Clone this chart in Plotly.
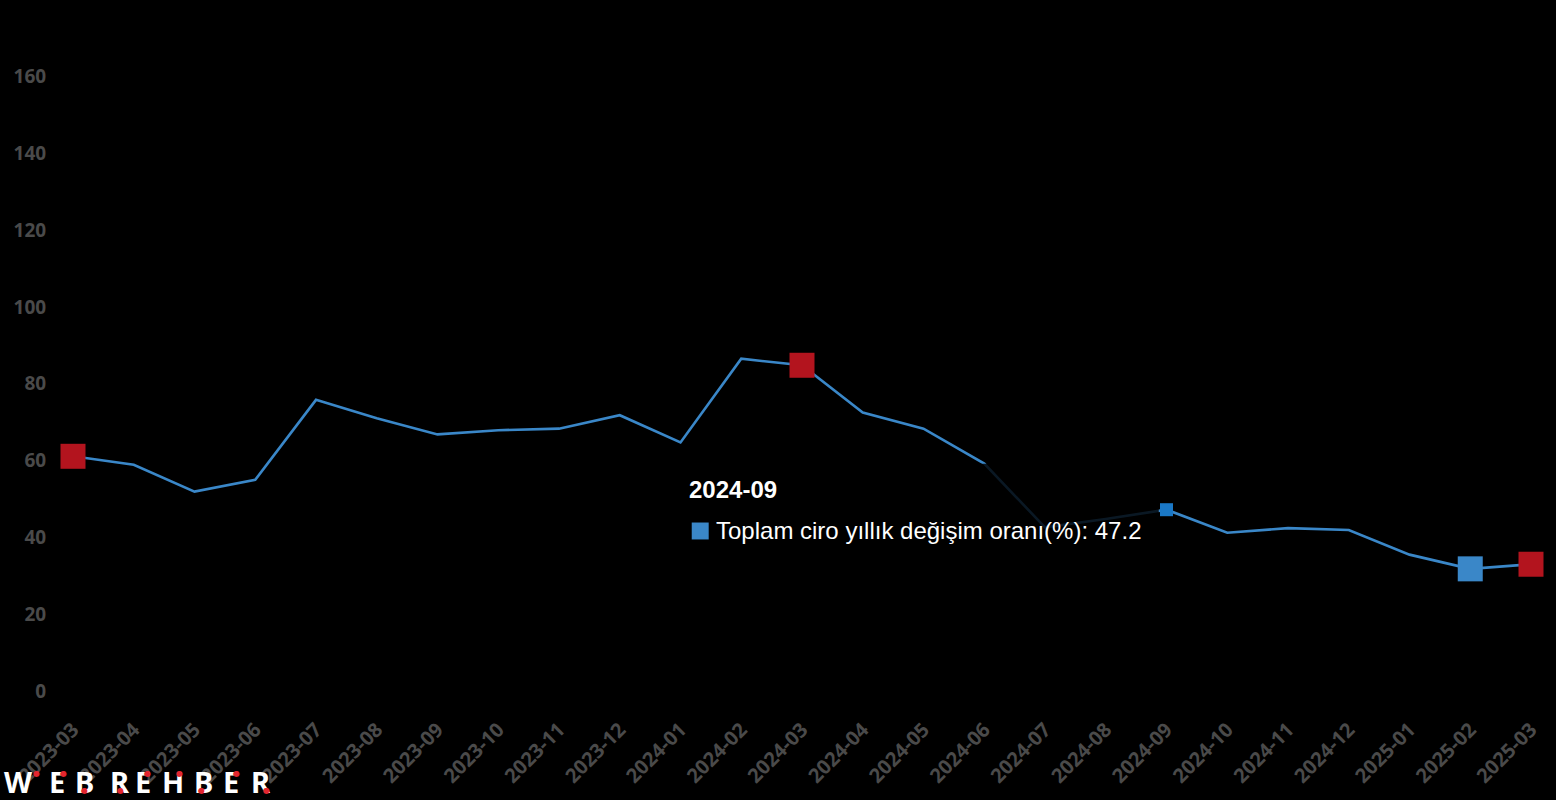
import plotly.graph_objects as go

# ---------------- data ----------------
months = ["2023-03", "2023-04", "2023-05", "2023-06", "2023-07", "2023-08", "2023-09",
          "2023-10", "2023-11", "2023-12", "2024-01", "2024-02", "2024-03", "2024-04",
          "2024-05", "2024-06", "2024-07", "2024-08", "2024-09", "2024-10", "2024-11",
          "2024-12", "2025-01", "2025-02", "2025-03"]
values = [61.1, 58.9, 51.9, 55.0, 75.8, 71.0, 66.8, 67.9, 68.3, 71.8, 64.7, 86.5, 84.8,
          72.5, 68.3, 59.2, 42.6, 44.8, 47.2, 41.2, 42.4, 41.9, 35.5, 31.8, 33.0]
series_name = "Toplam ciro yıllık değişim oranı(%)"
hover_month = "2024-09"
y_ticks = [0, 20, 40, 60, 80, 100, 120, 140, 160]

# ---------------- styling ----------------
LINE = "#3a87c8"
RED = "#b3141e"
HOVER = "#1a78c6"
TICK = "#4a4a4a"

W, H = 1556, 800
ML, MR, MT, MB = 70, 25, 38, 107
PW, PH = W - ML - MR, H - MT - MB


def px(x):
    return (x - ML) / PW


def py(y):
    return (H - MB - y) / PH


idx = list(range(len(months)))
red_idx = [i for i, m in enumerate(months) if m.endswith("-03")]
min_i = min(idx, key=lambda i: values[i])
hov_i = months.index(hover_month)

fig = go.Figure()

fig.add_trace(go.Scatter(x=idx, y=values, mode="lines", name=series_name,
                         line=dict(color=LINE, width=2.6), hoverinfo="skip",
                         cliponaxis=False))
fig.add_trace(go.Scatter(x=[idx[i] for i in red_idx], y=[values[i] for i in red_idx],
                         mode="markers", marker=dict(symbol="square", size=25, color=RED),
                         hoverinfo="skip", cliponaxis=False))
fig.add_trace(go.Scatter(x=[idx[min_i]], y=[values[min_i]], mode="markers",
                         marker=dict(symbol="square", size=25, color=LINE),
                         hoverinfo="skip", cliponaxis=False))

# tooltip box (semi-transparent) drawn as a filled trace in data space
bx0 = (672 - ML) / PW * (len(months) - 1)
bx1 = (1158 - ML) / PW * (len(months) - 1)
by0 = 170 * (H - MB - 562) / PH
by1 = 170 * (H - MB - 465) / PH
fig.add_trace(go.Scatter(x=[bx0, bx1, bx1, bx0, bx0], y=[by0, by0, by1, by1, by0],
                         mode="lines", fill="toself", fillcolor="rgba(0,0,0,0.82)",
                         line=dict(width=0), hoverinfo="skip", cliponaxis=False))

fig.add_trace(go.Scatter(x=[idx[hov_i]], y=[values[hov_i]], mode="markers",
                         marker=dict(symbol="square", size=13, color=HOVER),
                         hoverinfo="skip", cliponaxis=False))

# tooltip texts
fig.add_annotation(x=px(685), y=py(491), xref="paper", yref="paper", xanchor="left",
                   yanchor="middle", showarrow=False, text="<b>" + hover_month + "</b>",
                   font=dict(family="Liberation Sans, Arial", size=24, color="white"))
fig.add_annotation(x=px(712), y=py(532), xref="paper", yref="paper", xanchor="left",
                   yanchor="middle", showarrow=False,
                   text=f"{series_name}: {values[hov_i]}",
                   font=dict(family="Liberation Sans, Arial", size=24, color="white"))
fig.add_shape(type="rect", xref="paper", yref="paper", x0=px(690), x1=px(707),
              y0=py(541), y1=py(524), fillcolor=LINE, line=dict(width=0))

# watermark
letters = ["W", "E", "B", "R", "E", "H", "B", "E", "R"]
lx = [15, 54, 82, 117, 140, 170, 201, 228, 258]
for ch, x in zip(letters, lx):
    fig.add_annotation(x=px(x), y=py(784), xref="paper", yref="paper", xanchor="center",
                       yanchor="middle", showarrow=False, text="<b>" + ch + "</b>",
                       font=dict(family="Noto Sans", size=29, color="white"))
dots = [(33, 776), (60, 776), (82, 793), (118, 793), (145, 776), (177, 776), (199, 793),
        (234, 776), (264, 793)]
for dx, dy in dots:
    fig.add_annotation(x=px(dx), y=py(dy), xref="paper", yref="paper", xanchor="center",
                       yanchor="middle", showarrow=False, text="●",
                       font=dict(family="DejaVu Sans", size=8, color="#e3262f"))

fig.update_layout(
    width=W, height=H,
    margin=dict(l=ML, r=MR, t=MT, b=MB, pad=0),
    paper_bgcolor="black", plot_bgcolor="black",
    showlegend=False,
    font=dict(family="Noto Sans", color=TICK),
    xaxis=dict(range=[0, len(months) - 1], tickmode="array", tickvals=idx, ticktext=months,
               tickangle=-45, showgrid=False, zeroline=False, showline=False,
               ticks="outside", ticklen=18, tickcolor="rgba(0,0,0,0)",
               tickfont=dict(family="Noto Sans", size=20, color=TICK, weight="bold")),
    yaxis=dict(range=[0, 170], tickmode="array", tickvals=y_ticks, showgrid=False,
               zeroline=False, showline=False, ticks="outside", ticklen=22,
               tickcolor="rgba(0,0,0,0)",
               tickfont=dict(family="Noto Sans", size=19, color=TICK, weight="bold")),
)

fig.write_html("out.html", config={"displayModeBar": False},
               post_script="document.body.style.margin='0';"
                           "document.body.style.background='black';"
                           "document.body.style.overflow='hidden';")
